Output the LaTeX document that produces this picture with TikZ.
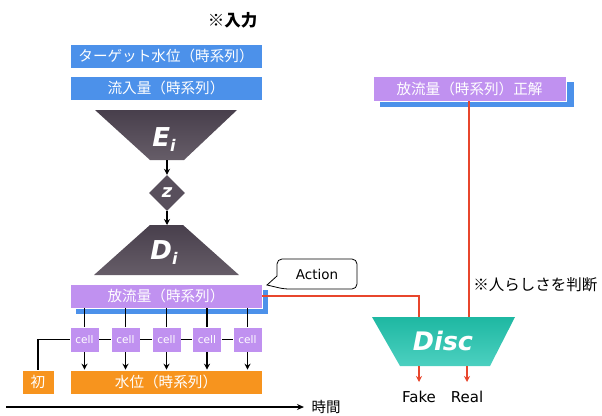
\documentclass[tikz,border=0pt]{standalone}
\usepackage{fontspec}
\setmainfont{DejaVu Sans}
\newfontfamily\jp{Noto Sans CJK JP}
\usetikzlibrary{arrows.meta,shapes.geometric}
\definecolor{cblue}{RGB}{76,145,234}
\definecolor{cpurple}{RGB}{192,145,240}
\definecolor{corange}{RGB}{247,148,30}
\definecolor{cdarktop}{RGB}{72,63,76}
\definecolor{cdarkbot}{RGB}{102,93,104}
\definecolor{cdiam}{RGB}{88,79,92}
\definecolor{ctealtop}{RGB}{30,184,162}
\definecolor{ctealbot}{RGB}{76,208,192}
\definecolor{cred}{RGB}{232,70,44}
\tikzset{
  bar/.style={fill=#1, draw=white, line width=0.6pt, text=white, inner sep=0pt,
    minimum width=192pt, minimum height=24pt, font=\jp\fontsize{14.6}{15}\selectfont},
  cellbox/.style={fill=cpurple, draw=white, line width=0.6pt, text=white, inner sep=0pt,
    minimum width=29pt, minimum height=25pt, font=\fontsize{10.5}{11}\selectfont},
  shadowbox/.style={fill=cblue},
  blk/.style={line width=1.4pt, black},
  blkarrow/.style={line width=1.4pt, black, -{Stealth[length=6pt,width=6pt]}},
  redline/.style={line width=1.4pt, cred},
  redarrow/.style={line width=1.4pt, cred, -{Stealth[length=6pt,width=6pt]}},
  bigital/.style={text=white, font=\bfseries\itshape\fontsize{26}{26}\selectfont},
  note/.style={font=\jp\fontsize{14}{15}\selectfont, text=black},
}
\begin{document}
\begin{tikzpicture}[x=1pt,y=-1pt]
\useasboundingbox (0,0) rectangle (602,415);

% input boxes
\node[note, anchor=east, font=\jp\bfseries\fontsize{16.5}{17}\selectfont] (inlabel) at (261,20) {※入力};
\node[bar=cblue] (tgt) at (166,56) {ターゲット水位（時系列）};
\node[bar=cblue] (inflow) at (166,88) {流入量（時系列）};

% encoder
\shade[top color=cdarktop, bottom color=cdarkbot] (95,110) -- (237,110) -- (184,160) -- (150,160) -- cycle;
\coordinate (Ebot) at (167,160);
\node[bigital] (E) at (164,140) {E\raisebox{-5pt}{\fontsize{16}{16}\selectfont i}};

% latent
\node[diamond, aspect=1, minimum size=36pt, inner sep=0pt, fill=cdiam, text=white,
  font=\bfseries\itshape\fontsize{18}{18}\selectfont] (z) at (167,193) {z};

% decoder
\shade[top color=cdarktop, bottom color=cdarkbot] (150,225) -- (183,225) -- (239,275) -- (94,275) -- cycle;
\coordinate (Dtop) at (167,225);
\node[bigital] (D) at (164,253) {D\raisebox{-5pt}{\fontsize{16}{16}\selectfont i}};

\draw[blkarrow] (Ebot) -- (z.north);
\draw[blkarrow] (z.south) -- (Dtop);

% output bar with shadow
\fill[shadowbox] (76,290) rectangle (268,314);
\node[bar=cpurple] (out) at (166,296) {放流量（時系列）};

% cells
\foreach \n/\x in {1/84.5, 2/125.5, 3/166.5, 4/207, 5/247.5}{
  \node[cellbox] (c\n) at (\x,339.5) {cell};
}
\node[bar=corange, minimum width=32pt] (init) at (38,382) {初};
\node[bar=corange] (level) at (166,382) {水位（時系列）};

\foreach \n in {1,...,5}{
  \draw[blk] (c\n |- out.south) -- (c\n.north);
  \draw[blkarrow] (c\n.south) -- (c\n |- level.north);
}
\draw[blk] (c1.east) -- (c2.west);
\draw[blk] (c2.east) -- (c3.west);
\draw[blk] (c3.east) -- (c4.west);
\draw[blk] (c4.east) -- (c5.west);
\draw[blk] (c1.west) -| (init.north);

% time axis
\coordinate (tstart) at (6,407);
\coordinate (tend) at (304,407);
\draw[line width=1.4pt, -{Stealth[length=7pt,width=6pt]}] (tstart) -- (tend);
\node[note, anchor=west, font=\jp\fontsize{14.5}{15}\selectfont] (time) at (308,407) {時間};

% action callout
\draw[line width=0.8pt, fill=white] (267,285) -- (277,276) [rounded corners=5pt] -- (277,259) -- (357,259) -- (357,289) -- (284,289) [sharp corners] -- cycle;
\node[font=\fontsize{13.5}{14}\selectfont] (act) at (317,274) {Action};

% ground truth
\fill[shadowbox] (380,82) rectangle (574,107);
\node[bar=cpurple, minimum width=193pt, minimum height=25pt] (truth) at (469.5,88.5) {放流量（時系列）正解};

% discriminator
\shade[top color=ctealtop, bottom color=ctealbot] (372,317) -- (515,317) -- (490,366) -- (400,366) -- cycle;
\node[bigital, font=\bfseries\itshape\fontsize{25.5}{26}\selectfont] (disc) at (443,341) {Disc};
\coordinate (dtopF) at (419,317);
\coordinate (dtopR) at (469,317);
\coordinate (truthbot) at (469,101);
\coordinate (dbotF) at (419,366);
\coordinate (dbotR) at (467,366);
\coordinate (fakeend) at (419,382);
\coordinate (realend) at (467,382);

\draw[redline] (out.east) -| (dtopF);
\draw[redline] (truthbot) -- (dtopR);
\draw[redarrow] (dbotF) -- (fakeend);
\draw[redarrow] (dbotR) -- (realend);

\node[font=\fontsize{15}{16}\selectfont] (fake) at (419,397) {Fake};
\node[font=\fontsize{15}{16}\selectfont] (real) at (467,397) {Real};
\node[note, anchor=east, font=\jp\fontsize{15.5}{16}\selectfont] (judge) at (601,285) {※人らしさを判断};
\end{tikzpicture}
\end{document}
